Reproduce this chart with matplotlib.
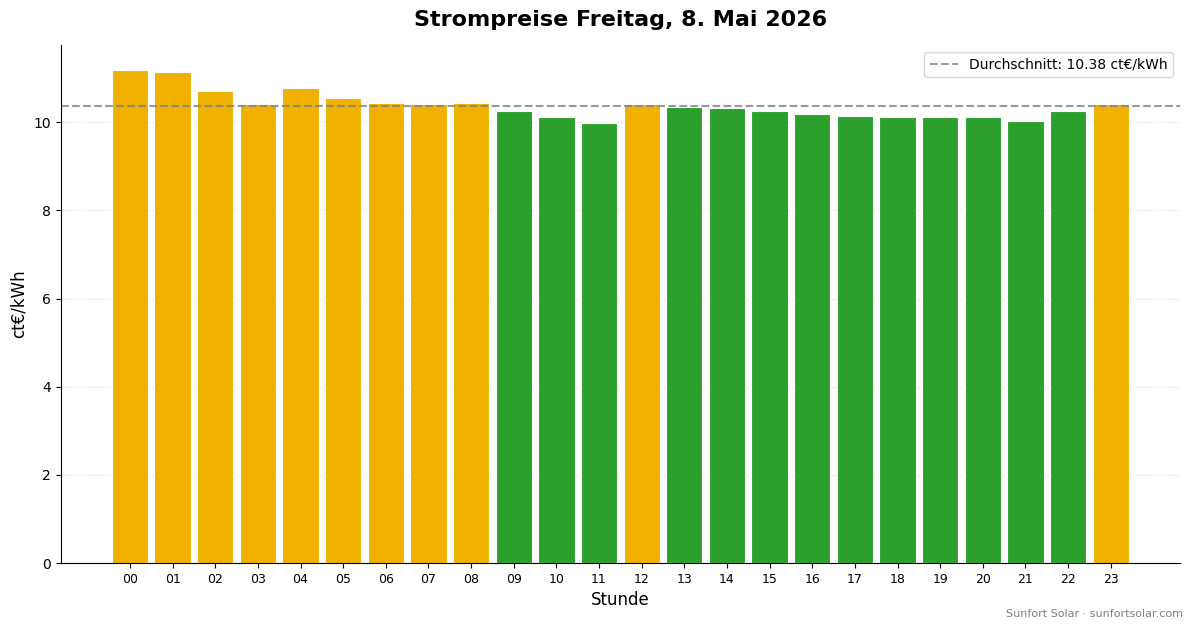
import matplotlib.pyplot as plt

hours = ['00', '01', '02', '03', '04', '05', '06', '07', '08', '09', '10', '11',
         '12', '13', '14', '15', '16', '17', '18', '19', '20', '21', '22', '23']
prices = [11.19, 11.14, 10.71, 10.41, 10.78, 10.55, 10.44, 10.41, 10.44, 10.26, 10.11, 9.99,
          10.42, 10.35, 10.32, 10.26, 10.20, 10.14, 10.11, 10.11, 10.11, 10.02, 10.26, 10.42]
average = 10.38

# above-average hours in yellow, the rest in green
colors = ['#F0B000' if p >= average else '#2CA02C' for p in prices]

fig, ax = plt.subplots(figsize=(11.93, 6.28), dpi=100)
ax.bar(range(len(hours)), prices, width=0.85, color=colors, edgecolor='white', linewidth=0.8)
ax.axhline(average, color='gray', linestyle='--', linewidth=1.5, alpha=0.8,
           label=f'Durchschnitt: {average:.2f} ct€/kWh')

ax.set_xticks(range(len(hours)))
ax.set_xticklabels(hours, fontsize=9)
ax.set_xlim(-1.62, 24.62)
ax.set_title('Strompreise Freitag, 8. Mai 2026', fontsize=16, fontweight='bold', pad=14)
ax.set_xlabel('Stunde', fontsize=12)
ax.set_ylabel('ct€/kWh', fontsize=12)
ax.grid(axis='y', linestyle=':', color='lightgray', alpha=0.8)
ax.set_axisbelow(True)
ax.spines['top'].set_visible(False)
ax.spines['right'].set_visible(False)
ax.legend(loc='upper right')

fig.subplots_adjust(left=0.051, right=0.989, top=0.928, bottom=0.1035)
fig.text(0.992, 0.015, 'Sunfort Solar · sunfortsolar.com', ha='right', va='bottom',
         fontsize=8, color='gray')
fig.savefig('out.png')
